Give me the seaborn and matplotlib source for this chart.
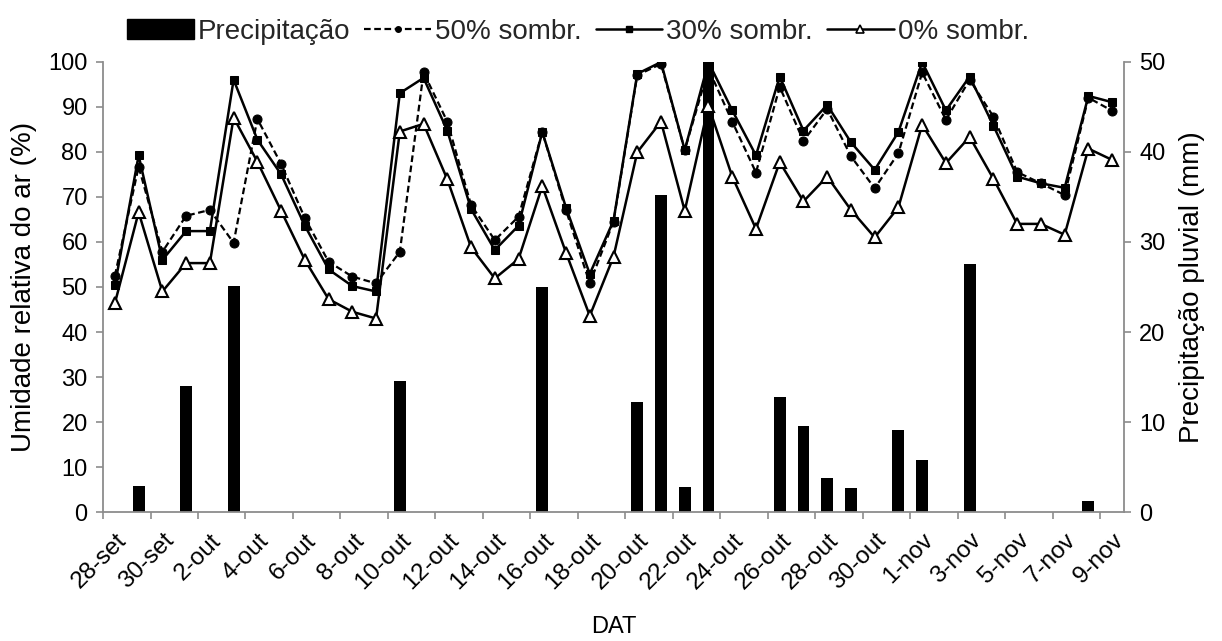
import numpy as np
import pandas as pd
import matplotlib
matplotlib.use("Agg")
import matplotlib.pyplot as plt
import seaborn as sns
from matplotlib.patches import Patch
from matplotlib.lines import Line2D

# ---------------- data ----------------
tick_labels = ["28-set", "30-set", "2-out", "4-out", "6-out", "8-out", "10-out",
               "12-out", "14-out", "16-out", "18-out", "20-out", "22-out", "24-out",
               "26-out", "28-out", "30-out", "1-nov", "3-nov", "5-nov", "7-nov", "9-nov"]

day = list(range(43))  # 28-set ... 9-nov

precip = [0, 2.9, 0, 14.0, 0, 25.1, 0, 0, 0, 0, 0, 0, 14.6, 0, 0, 0, 0, 0, 25.0, 0,
          0, 0, 12.2, 35.2, 2.8, 50.0, 0, 0, 12.8, 9.6, 3.8, 2.7, 0, 9.1, 5.8, 0,
          27.5, 0, 0, 0, 0, 1.2, 0]

sombr50 = [52.5, 76.7, 57.8, 65.8, 67.1, 59.8, 87.3, 77.3, 65.3, 55.6, 52.3, 50.8,
           57.8, 97.6, 86.7, 68.2, 60.4, 65.6, 84.4, 67.0, 50.8, 64.5, 97.0, 99.5,
           80.4, 98.4, 86.7, 75.4, 94.4, 82.4, 89.5, 79.0, 71.9, 79.7, 97.6, 87.1,
           96.0, 87.8, 75.5, 73.0, 70.4, 92.0, 89.1]

sombr30 = [50.4, 79.2, 56.0, 62.4, 62.4, 96.0, 82.7, 75.0, 63.6, 53.9, 50.2, 49.0,
           93.0, 96.4, 84.7, 67.3, 58.2, 63.6, 84.4, 67.6, 52.9, 64.7, 97.3, 99.9,
           80.4, 99.9, 89.2, 79.2, 96.7, 84.7, 90.4, 82.1, 76.0, 84.4, 99.9, 89.2,
           96.7, 85.8, 74.5, 73.0, 72.0, 92.4, 91.0]

sombr0 = [46.4, 66.6, 49.0, 55.3, 55.3, 87.6, 77.8, 66.9, 56.0, 47.3, 44.5, 43.0,
          84.5, 86.2, 73.9, 58.8, 51.9, 56.2, 72.4, 57.6, 43.6, 56.7, 79.9, 86.7,
          66.9, 90.2, 74.5, 62.9, 77.7, 69.0, 74.5, 67.1, 61.0, 67.7, 86.0, 77.5,
          83.3, 74.0, 64.0, 64.0, 61.6, 80.7, 78.2]

# ---------------- style ----------------
sns.set_theme(style="white")
plt.rcParams['font.family'] = ['Liberation Sans', 'DejaVu Sans']
GREY = "#8c8c8c"
FS_Y = 17
FS_X = 17.5
FS_T = 20

fig = plt.figure(figsize=(12.22, 6.41), dpi=100)
ax = fig.add_axes([0.0843, 0.2008, 0.8355, 0.7030])
ax2 = ax.twinx()

df_bar = pd.DataFrame({"dia": day, "precip": precip})
sns.barplot(data=df_bar, x="dia", y="precip", ax=ax2, color="black",
            width=0.5, saturation=1, native_scale=True, linewidth=0, errorbar=None)

sns.lineplot(x=day, y=sombr50, ax=ax, color="black", linestyle=(0, (3, 1.6)),
             lw=1.6, marker="o", markersize=6.5, markeredgecolor="black",
             markerfacecolor="black")
sns.lineplot(x=day, y=sombr30, ax=ax, color="black", linestyle="-", lw=1.8,
             marker="s", markersize=5.5, markeredgecolor="black",
             markerfacecolor="black")
sns.lineplot(x=day, y=sombr0, ax=ax, color="black", linestyle="-", lw=1.8,
             marker="^", markersize=8.5, markeredgecolor="black",
             markerfacecolor="white", markeredgewidth=1.5)

ax.set_zorder(ax2.get_zorder() + 1)
ax.patch.set_visible(False)

ax.set_xlim(-0.5, 42.5)
ax.set_ylim(0, 100)
ax2.set_ylim(0, 50)
ax.set_yticks(np.arange(0, 101, 10))
ax2.set_yticks(np.arange(0, 51, 10))

# labels sit slightly right of the category centre, like the original
ax.set_xticks(np.arange(0, 43, 2) + 0.34)
ax.set_xticklabels(tick_labels, rotation=45, ha="right", va="center",
                   rotation_mode="anchor")
ax.set_xticks(np.arange(-0.5, 42.6, 2), minor=True)
ax.tick_params(axis="x", which="major", length=0, pad=18, labelsize=FS_X, colors="black")
ax.tick_params(axis="x", which="minor", length=5, width=1.2, color=GREY, direction="out", bottom=True)
ax.tick_params(axis="y", which="major", length=5, width=1.2, color=GREY, direction="out",
               pad=6, labelsize=FS_Y, left=True, labelcolor="black")
ax2.tick_params(axis="y", which="major", length=5, width=1.2, color=GREY, direction="out",
                pad=6, labelsize=FS_Y, right=True, labelcolor="black")

for a in (ax, ax2):
    for s in a.spines.values():
        s.set_color(GREY)
        s.set_linewidth(1.3)
    a.spines["top"].set_visible(False)
    a.grid(False)
ax.spines["right"].set_visible(False)
ax2.spines["left"].set_visible(False)
ax2.spines["bottom"].set_visible(False)

ax.set_xlabel("DAT", fontsize=17, labelpad=16, color="black")
ax.set_ylabel("Umidade relativa do ar (%)", fontsize=FS_T, labelpad=8, color="black")
ax2.set_ylabel("Precipitação pluvial (mm)", fontsize=FS_T, labelpad=10, color="black")

handles = [
    Patch(facecolor="black", edgecolor="black"),
    Line2D([], [], color="black", linestyle=(0, (3, 1.6)), lw=1.6, marker="o",
           markersize=4, markerfacecolor="black"),
    Line2D([], [], color="black", linestyle="-", lw=1.8, marker="s", markersize=4,
           markerfacecolor="black"),
    Line2D([], [], color="black", linestyle="-", lw=1.8, marker="^", markersize=6,
           markerfacecolor="white", markeredgewidth=1.2),
]
labels = ["Precipitação", "50% sombr.", "30% sombr.", "0% sombr."]
fig.legend(handles, labels, loc="upper center", bbox_to_anchor=(0.473, 1.01), ncol=4,
           frameon=False, fontsize=20, handlelength=2.4, handletextpad=0.15,
           columnspacing=0.5)

fig.savefig("out.png", dpi=100)
